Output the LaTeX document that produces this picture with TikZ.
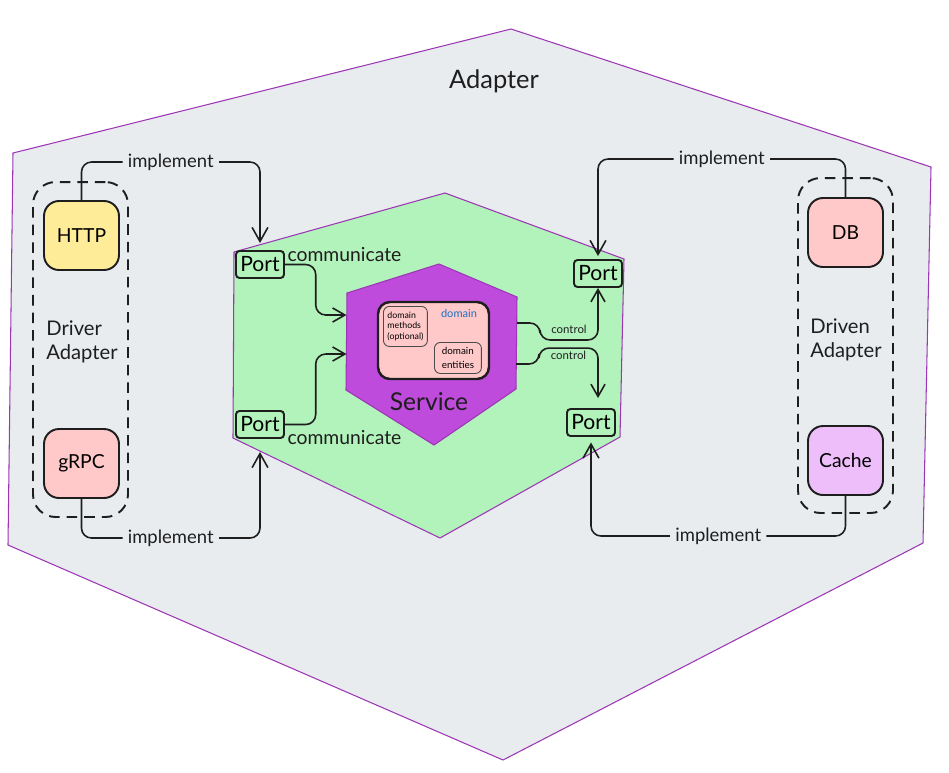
\documentclass[tikz,border=0pt]{standalone}
\usepackage{fontspec}
\setmainfont{Lato}
\usepackage{xcolor}
\definecolor{hexLine}     {HTML}{9C36B5}
\definecolor{adapterBack} {HTML}{E9ECEF}
\definecolor{portBack}    {HTML}{B2F2BB}
\definecolor{serviceBack} {HTML}{BE4BDB}
\definecolor{redBack}     {HTML}{FFC9C9}
\definecolor{yellowBack}  {HTML}{FFEC99}
\definecolor{violetBack}  {HTML}{EEBEFA}
\definecolor{ink}         {HTML}{1E1E1E}
\definecolor{domainBlue}  {HTML}{1971C2}
\usetikzlibrary{arrows.meta, positioning, calc}
\tikzset{
    hexlayer/.style={draw=hexLine, line width=0.6pt, line join=miter},
    adapterbox/.style={draw=ink, rounded corners=3mm, line width=1.1pt,
                   minimum width=15mm, minimum height=13.8mm,
                   font=\fontsize{11}{13}\selectfont},
    groupbox/.style={draw=ink, dashed, dash pattern=on 6pt off 4pt,
                   rounded corners=4.5mm, line width=1.1pt,
                   minimum width=19mm, minimum height=67mm},
    grouplabel/.style={align=left, text=ink, font=\fontsize{11.5}{14}\selectfont},
    port/.style={draw=ink, fill=portBack, rounded corners=2pt, line width=1.1pt,
                   minimum width=9.6mm, minimum height=5.4mm, inner sep=1pt,
                   font=\fontsize{12}{13}\selectfont},
    smallbox/.style={draw=ink!80, rounded corners=1.2mm, line width=0.5pt,
                   align=left, inner sep=1pt, font=\fontsize{5}{6}\selectfont},
    implarrow/.style={-{Straight Barb[length=8pt, width=9pt]}, line width=0.9pt,
                   draw=ink, rounded corners=2mm},
    flowarrow/.style={-{Straight Barb[length=7pt, width=8pt]}, line width=0.9pt,
                   draw=ink, rounded corners=2mm},
    implabel/.style={fill=adapterBack, inner xsep=3pt, text=ink,
                   font=\fontsize{10.5}{12}\selectfont},
    commlabel/.style={text=ink, inner sep=1pt, font=\fontsize{11}{13}\selectfont},
    ctrllabel/.style={text=ink, inner sep=1pt, font=\fontsize{6.5}{8}\selectfont},
}

\begin{document}
\begin{tikzpicture}[x=0.02cm, y=-0.02cm]
    \useasboundingbox (0,0) rectangle (949,772);
    % layers
    \draw[hexlayer, fill=adapterBack] (511,29) -- (931,167) -- (923,543) -- (503,760)
        -- (8,545) -- (13,153) -- cycle;
    \draw[hexlayer, fill=portBack] (445,193) -- (624,259) -- (620,437) -- (440,538)
        -- (233,438) -- (234,252) -- cycle;
    \draw[hexlayer, fill=serviceBack] (439,264) -- (517,297) -- (516,389) -- (434,445)
        -- (346,390) -- (347,293) -- cycle;
    \node[text=ink, font=\fontsize{14.5}{16}\selectfont] (adapter) at (494,81) {Adapter};
    \node[text=ink, font=\fontsize{14}{16}\selectfont] (service) at (429,402) {Service};
    \coordinate (svcin1) at (346.5,315);
    \coordinate (svcin2) at (346.5,354);
    \coordinate (svcout1) at (517,323);
    \coordinate (svcout2) at (516,364);
    % domain
    \node[draw=ink, fill=redBack, line width=1.4pt, rounded corners=2.4mm,
          minimum width=22.2mm, minimum height=15.4mm] (domain) at (433.5,340.5) {};
    \node[text=domainBlue, font=\fontsize{6.3}{7}\selectfont] (domainlbl) at (459,313) {domain};
    \node[smallbox, minimum width=8.8mm, minimum height=8mm, anchor=north west]
        (methods) at (383,306) {domain\\methods\\(optional)};
    \node[smallbox, minimum width=9.4mm, minimum height=6.2mm, anchor=north west,
          font=\fontsize{5.6}{7.5}\selectfont] (entities) at (434,342) {domain\\entities};
    % adapters
    \node[groupbox] (driver) at (80.5,349.5) {};
    \node[groupbox] (driven) at (845.5,345.5) {};
    \node[grouplabel] (driverlbl) at (82,342) {Driver\\Adapter};
    \node[grouplabel] (drivenlbl) at (846,340) {Driven\\Adapter};
    \node[adapterbox, fill=yellowBack] (http) at (81.5,235.5) {HTTP};
    \node[adapterbox, fill=redBack] (grpc) at (81.5,463.5) {gRPC};
    \node[adapterbox, fill=redBack] (db) at (845.5,232.5) {DB};
    \node[adapterbox, fill=violetBack] (cache) at (845.5,460.5) {Cache};
    % ports
    \node[port] (portin1) at (260,264.5) {Port};
    \node[port] (portin2) at (260,424.5) {Port};
    \node[port] (portout1) at (598,273.5) {Port};
    \node[port] (portout2) at (591,422.5) {Port};
    % implement
    \draw[implarrow, shorten >=1.4mm] (http.north) -- (http.north |- 0,162)
        -- node[implabel] {implement} (portin1.north |- 0,162) -- (portin1.north);
    \draw[implarrow, shorten >=2.6mm] (grpc.south) -- (grpc.south |- 0,538)
        -- node[implabel] {implement} (portin2.south |- 0,538) -- (portin2.south);
    \draw[implarrow, shorten >=0.6mm] (db.north) -- (db.north |- 0,159)
        -- node[implabel] {implement} (portout1.north |- 0,159) -- (portout1.north);
    \draw[implarrow, shorten >=1.1mm] (cache.south) -- (cache.south |- 0,536)
        -- node[implabel] {implement} (portout2.south |- 0,536) -- (portout2.south);
    % communicate
    \draw[flowarrow] (portin1.east) node[commlabel, anchor=south west] {communicate}
        -| ($(portin1.east)!0.5!(svcin1)$) |- (svcin1);
    \draw[flowarrow] (portin2.east) node[commlabel, anchor=north west, yshift=-2pt] {communicate}
        -| ($(portin2.east)!0.5!(svcin2)$) |- (svcin2);
    % control
    \draw[flowarrow] (svcout1) -- ++(23,0) |- node[ctrllabel, pos=0.75, above, yshift=2pt] {control}
        ($(portout1.south)+(0,52)$) -- (portout1.south);
    \draw[flowarrow, shorten >=2mm] (svcout2) -- ++(23,0) |- node[ctrllabel, pos=0.75, below] {control}
        ($(portout1.south |- portout2.north)+(0,-60)$) -- (portout1.south |- portout2.north);
\end{tikzpicture}
\end{document}
